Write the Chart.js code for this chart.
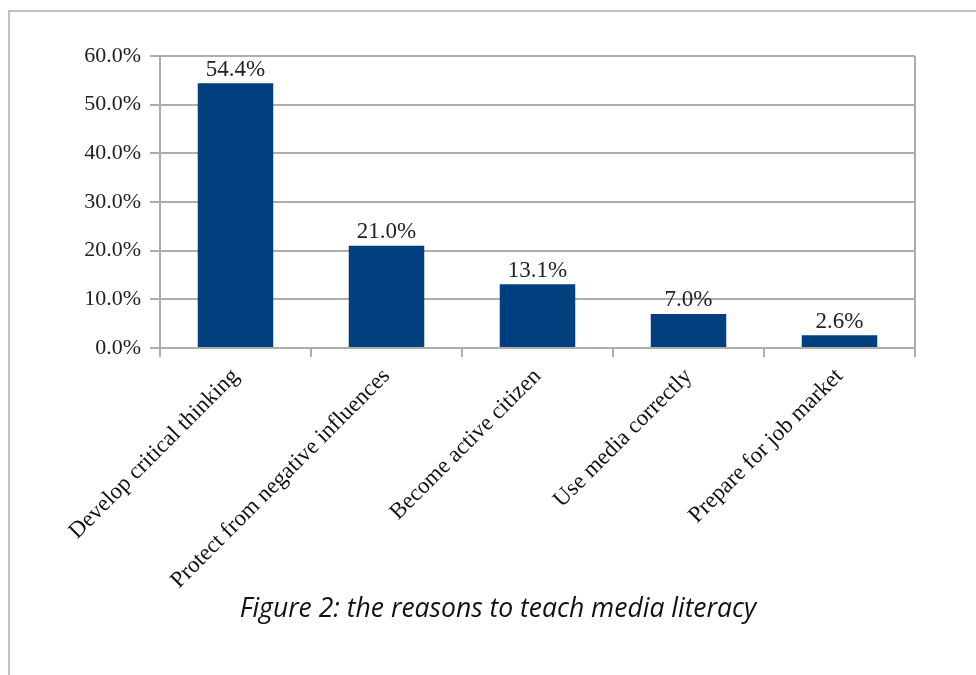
<!DOCTYPE html>
<html>
<head>
<meta charset="utf-8">
<script src="https://cdn.jsdelivr.net/npm/chart.js@4.4.1/dist/chart.umd.min.js"></script>
<style>
  html, body { margin: 0; padding: 0; background: #fff; }
  body { width: 976px; height: 675px; position: relative; overflow: hidden; }
  #frame { position: absolute; left: 8px; top: 10px; width: 1000px; height: 700px; border: 2px solid #b8c1d4; }
  #wrap { position: absolute; left: 0; top: 0; width: 976px; height: 675px; }
  #caption { position: absolute; left: 0; width: 996px; top: 589px; text-align: center;
    font-family: "Open Sans", sans-serif; font-style: italic; font-size: 26.5px; color: #111; }
</style>
</head>
<body>
<div id="frame"></div>
<div id="wrap"><canvas id="mediaChart" width="976" height="675"></canvas></div>
<div id="caption">Figure 2: the reasons to teach media literacy</div>
<script>
var categories = ['Develop critical thinking', 'Protect from negative influences', 'Become active citizen', 'Use media correctly', 'Prepare for job market'];
var shares = [54.4, 21.0, 13.1, 7.0, 2.6];
var yTicks = [0, 10, 20, 30, 40, 50, 60];

var serif = '"Liberation Serif", "Times New Roman", serif';
var gridGray = '#adadad';

// value labels above each bar + right frame line
var valueLabels = {
    id: 'valueLabels',
    afterDatasetsDraw: function (chart) {
        var ctx = chart.ctx;
        var area = chart.chartArea;
        ctx.save();
        ctx.strokeStyle = gridGray;
        ctx.lineWidth = 2;
        ctx.beginPath();
        ctx.moveTo(area.right, area.top);
        ctx.lineTo(area.right, area.bottom + 9);
        ctx.stroke();
        ctx.font = '23px ' + serif;
        ctx.fillStyle = '#222';
        ctx.textAlign = 'center';
        ctx.textBaseline = 'bottom';
        chart.getDatasetMeta(0).data.forEach(function (bar, i) {
            ctx.fillText(shares[i].toFixed(1) + '%', bar.x, bar.y - 2);
        });
        ctx.restore();
    }
};

var ctx = document.getElementById('mediaChart').getContext('2d');
var mediaChart = new Chart(ctx, {
    type: 'bar',
    data: {
        labels: categories,
        datasets: [{
            data: shares,
            backgroundColor: '#023f7e',
            borderColor: '#023f7e',
            borderWidth: 0,
            barPercentage: 0.5,
            categoryPercentage: 1.0
        }]
    },
    options: {
        responsive: false,
        animation: false,
        layout: { padding: { top: 56, right: 61, bottom: 0, left: 0 } },
        plugins: { legend: { display: false }, tooltip: { enabled: false } },
        scales: {
            y: {
                min: 0,
                max: 60,
                afterBuildTicks: function (scale) {
                    scale.ticks = yTicks.map(function (v) { return { value: v }; });
                },
                afterFit: function (scale) { scale.width = 160; },
                border: { display: true, color: gridGray, width: 2 },
                grid: { color: gridGray, lineWidth: 2, tickLength: 10, drawTicks: true },
                ticks: {
                    color: '#222',
                    font: { family: serif, size: 22 },
                    padding: 9,
                    callback: function (v) { return v.toFixed(1) + '%'; }
                }
            },
            x: {
                afterFit: function (scale) { scale.height = 675 - 348; },
                border: { display: true, color: gridGray, width: 2 },
                grid: { offset: true, drawOnChartArea: false, color: gridGray, lineWidth: 2, tickLength: 9 },
                ticks: {
                    color: '#111',
                    font: { family: serif, size: 23 },
                    minRotation: 45,
                    maxRotation: 45,
                    autoSkip: false,
                    padding: 6
                }
            }
        }
    },
    plugins: [valueLabels]
});
</script>
</body>
</html>
